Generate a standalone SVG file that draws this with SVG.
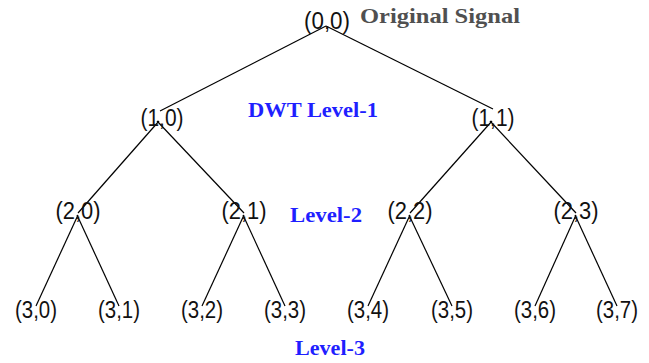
<svg xmlns="http://www.w3.org/2000/svg" width="649" height="363" viewBox="0 0 649 363">
<style>
.n{font-family:"Liberation Sans",Arial,sans-serif;font-size:23px;fill:#111;text-anchor:middle}
.lv{font-family:"Liberation Serif","Times New Roman",serif;font-weight:bold;font-size:20px;fill:#1f1fff}
.org{font-family:"Liberation Serif","Times New Roman",serif;font-weight:bold;font-size:22px;fill:#505050}
.e line{stroke:#000;stroke-width:1.2}
</style>
<rect width="649" height="363" fill="#fff"/>
<g id="connectors" class="e">
<line x1="326" y1="26" x2="160" y2="111"/>
<line x1="326" y1="26" x2="493" y2="109"/>
<line x1="159" y1="121" x2="78" y2="213"/>
<line x1="157" y1="121" x2="244" y2="213"/>
<line x1="492" y1="121" x2="410" y2="213"/>
<line x1="490" y1="121" x2="576" y2="213"/>
<line x1="78" y1="215" x2="36" y2="306"/>
<line x1="77" y1="215" x2="119" y2="306"/>
<line x1="244" y1="215" x2="202" y2="306"/>
<line x1="243" y1="215" x2="285" y2="306"/>
<line x1="410" y1="215" x2="368" y2="306"/>
<line x1="409" y1="215" x2="452" y2="306"/>
<line x1="576" y1="215" x2="535" y2="306"/>
<line x1="575" y1="215" x2="617" y2="306"/>
</g>
<g id="n00"><text class="n" x="327" y="29" textLength="46" lengthAdjust="spacingAndGlyphs">(0,0)</text></g>
<g id="n10"><text class="n" x="162" y="126" textLength="43" lengthAdjust="spacingAndGlyphs">(1,0)</text></g>
<g id="n11"><text class="n" x="493" y="126" textLength="43" lengthAdjust="spacingAndGlyphs">(1,1)</text></g>
<g id="n20"><text class="n" x="78" y="219" textLength="45" lengthAdjust="spacingAndGlyphs">(2,0)</text></g>
<g id="n21"><text class="n" x="244" y="219" textLength="45" lengthAdjust="spacingAndGlyphs">(2,1)</text></g>
<g id="n22"><text class="n" x="410" y="219" textLength="45" lengthAdjust="spacingAndGlyphs">(2,2)</text></g>
<g id="n23"><text class="n" x="576" y="219" textLength="45" lengthAdjust="spacingAndGlyphs">(2,3)</text></g>
<g id="n30"><text class="n" x="36" y="318" textLength="42" lengthAdjust="spacingAndGlyphs">(3,0)</text></g>
<g id="n31"><text class="n" x="119" y="318" textLength="42" lengthAdjust="spacingAndGlyphs">(3,1)</text></g>
<g id="n32"><text class="n" x="202" y="318" textLength="42" lengthAdjust="spacingAndGlyphs">(3,2)</text></g>
<g id="n33"><text class="n" x="285" y="318" textLength="42" lengthAdjust="spacingAndGlyphs">(3,3)</text></g>
<g id="n34"><text class="n" x="368" y="318" textLength="42" lengthAdjust="spacingAndGlyphs">(3,4)</text></g>
<g id="n35"><text class="n" x="452" y="318" textLength="42" lengthAdjust="spacingAndGlyphs">(3,5)</text></g>
<g id="n36"><text class="n" x="535" y="318" textLength="42" lengthAdjust="spacingAndGlyphs">(3,6)</text></g>
<g id="n37"><text class="n" x="617" y="318" textLength="42" lengthAdjust="spacingAndGlyphs">(3,7)</text></g>
<g id="labels">
<text class="org" x="360" y="23" textLength="160" lengthAdjust="spacingAndGlyphs">Original Signal</text>
<text class="lv" x="248" y="117" textLength="130" lengthAdjust="spacingAndGlyphs">DWT Level-1</text>
<text class="lv" x="290" y="222" textLength="72" lengthAdjust="spacingAndGlyphs">Level-2</text>
<text class="lv" x="295" y="355" textLength="70" lengthAdjust="spacingAndGlyphs">Level-3</text>
</g>
</svg>
